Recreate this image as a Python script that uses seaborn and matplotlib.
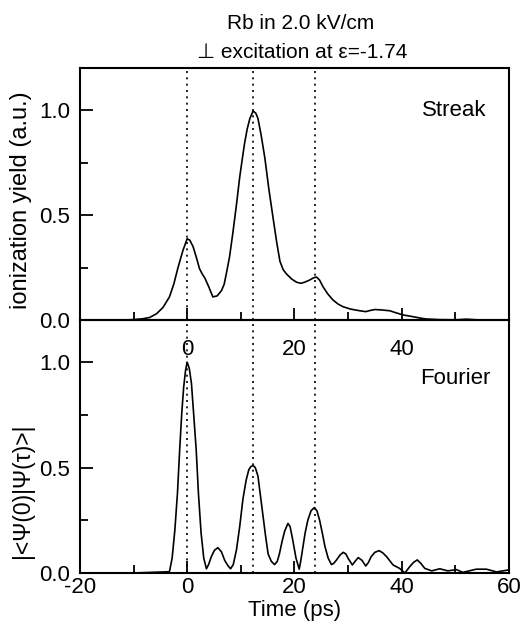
import numpy as np
import pandas as pd
import matplotlib
matplotlib.use("Agg")
import matplotlib.pyplot as plt
import seaborn as sns
from matplotlib.ticker import MultipleLocator, FormatStrFormatter

# Streak camera ionization yield
streak_t = [-18, -12, -10, -8.3, -7, -5.7, -4.5, -3.3, -2.5, -1.7, -0.8, 0.0, 0.5, 1.1, 1.7,
            2.3, 2.8, 3.3, 4.0, 4.8, 5.6, 6.4, 6.9, 7.3, 7.9, 8.5, 9.2, 9.8, 10.3, 10.7,
            11.2, 11.7, 12.3, 12.8, 13.2, 13.8, 14.5, 15.2, 16.0, 16.7, 17.3, 17.9, 18.5,
            19.5, 20.4, 21.2, 21.9, 22.8, 23.5, 24.1, 24.7, 25.3, 26.2, 27.2, 28.2, 29.1,
            30.5, 32.2, 33.3, 34.2, 35.0, 36.3, 37.8, 39.0, 40.3, 42.1, 43.5, 44.6, 47,
            50, 52.1, 54, 57]
streak_y = [0.0, 0.0, 0.002, 0.006, 0.012, 0.03, 0.06, 0.11, 0.17, 0.25, 0.33, 0.387, 0.38,
            0.35, 0.30, 0.245, 0.22, 0.20, 0.16, 0.11, 0.115, 0.14, 0.17, 0.22, 0.30, 0.41,
            0.55, 0.68, 0.77, 0.84, 0.91, 0.96, 0.995, 0.985, 0.96, 0.88, 0.77, 0.63, 0.49,
            0.37, 0.28, 0.24, 0.22, 0.195, 0.18, 0.175, 0.18, 0.19, 0.20, 0.205, 0.19,
            0.16, 0.125, 0.095, 0.075, 0.063, 0.052, 0.044, 0.04, 0.046, 0.05, 0.048,
            0.044, 0.034, 0.024, 0.016, 0.009, 0.005, 0.002, 0.001, 0.004, 0.001, 0.0]

# Fourier transform overlap |<psi(0)|psi(tau)>|
fourier_t = [-18, -10, -3.3, -2.8, -2.3, -1.8, -1.4, -1.0, -0.65, -0.3, 0.0, 0.4, 0.8, 1.2,
             1.7, 2.1, 2.6, 3.1, 3.6, 4.0, 4.5, 5.1, 5.75, 6.4, 7.0, 7.6, 8.1, 8.6, 9.2,
             9.8, 10.4, 11.0, 11.5, 11.9, 12.3, 12.7, 13.2, 13.6, 14.1, 14.6, 15.1, 15.7,
             16.3, 16.8, 17.2, 17.7, 18.2, 18.8, 19.2, 19.7, 20.3, 20.9, 21.2, 21.6, 22.0,
             22.5, 23.1, 23.7, 24.2, 24.7, 25.2, 25.7, 26.3, 26.9, 27.3, 27.8, 28.5, 29.1,
             29.6, 30.0, 30.8, 31.3, 31.9, 32.6, 33.3, 33.8, 34.3, 35.0, 35.8, 36.5, 37.2,
             38.4, 39.6, 40.6, 41.5, 42.2, 42.9, 43.6, 44.3, 45.6, 47.1, 48.6, 50.2, 51.4,
             52.6, 53.9, 55.8, 57.7, 59.8]
fourier_y = [0.0, 0.0, 0.006, 0.07, 0.2, 0.38, 0.58, 0.76, 0.88, 0.96, 1.0, 0.97, 0.9, 0.76,
             0.58, 0.38, 0.19, 0.07, 0.02, 0.04, 0.077, 0.108, 0.12, 0.1, 0.06, 0.035, 0.02,
             0.04, 0.11, 0.22, 0.35, 0.44, 0.49, 0.505, 0.51, 0.5, 0.46, 0.38, 0.28, 0.18,
             0.09, 0.055, 0.04, 0.055, 0.09, 0.15, 0.2, 0.235, 0.22, 0.155, 0.07, 0.018, 0.06,
             0.125, 0.19, 0.25, 0.295, 0.31, 0.295, 0.25, 0.19, 0.125, 0.07, 0.04, 0.045,
             0.06, 0.085, 0.098, 0.09, 0.07, 0.038, 0.055, 0.073, 0.06, 0.033, 0.05, 0.077,
             0.098, 0.106, 0.095, 0.077, 0.038, 0.022, 0.0, 0.03, 0.05, 0.062, 0.045, 0.022,
             0.01, 0.02, 0.01, 0.016, 0.003, 0.01, 0.018, 0.018, 0.005, 0.014]

# positions of the classical return times (dotted guides)
guide_t = [0.0, 12.3, 23.8]

sns.set_style("ticks")
plt.rcParams['font.family'] = ['Liberation Sans', 'DejaVu Sans']
plt.rcParams['axes.unicode_minus'] = False
for k in ('text.color', 'axes.labelcolor', 'xtick.color', 'ytick.color', 'axes.edgecolor'):
    plt.rcParams[k] = 'black'

fig = plt.figure(figsize=(5.22, 6.28), dpi=100)
ax2 = fig.add_axes([0.153, 0.0876, 0.822, 0.4029])
ax1 = fig.add_axes([0.153, 0.4904, 0.822, 0.4013])
ax1.patch.set_visible(False)

df_s = pd.DataFrame({"t": streak_t, "y": streak_y})
df_f = pd.DataFrame({"t": fourier_t, "y": fourier_y})
sns.lineplot(data=df_s, x="t", y="y", ax=ax1, color="black", lw=1.2)
sns.lineplot(data=df_f, x="t", y="y", ax=ax2, color="black", lw=1.2)

for ax in (ax1, ax2):
    ax.set_xlim(-20, 60)
    ax.set_ylim(0, 1.2)
    for g in guide_t:
        ax.axvline(g, color="black", ls=(0, (1.2, 2.6)), lw=1.2)
    ax.xaxis.set_major_locator(MultipleLocator(20))
    ax.xaxis.set_minor_locator(MultipleLocator(10))
    ax.yaxis.set_major_locator(MultipleLocator(0.5))
    ax.yaxis.set_minor_locator(MultipleLocator(0.25))
    ax.tick_params(which="both", direction="in", labelsize=16, width=1.3,
                   right=False, top=False)
    ax.tick_params(which="major", length=9)
    ax.tick_params(which="minor", length=6)
    ax.tick_params(axis="y", pad=7)
    for s in ax.spines.values():
        s.set_linewidth(1.5)
    ax.yaxis.set_major_formatter(FormatStrFormatter("%.1f"))
    ax.set_xlabel("")

ax1.set_xticks([0, 20, 40])
ax1.set_xticklabels(["0", "20", "40"])
ax1.tick_params(axis="x", which="major", pad=14)
ax2.tick_params(axis="x", pad=3)

ax1.set_ylabel("ionization yield (a.u.)", fontsize=17)
ax1.yaxis.set_label_coords(-0.112, 0.476)
ax2.set_ylabel("|<Ψ(0)|Ψ(τ)>|", fontsize=16.5)
ax2.yaxis.set_label_coords(-0.107, 0.324)
ax2.set_xlabel("Time (ps)", fontsize=16, labelpad=1)

ax1.text(0.872, 0.833, "Streak", transform=ax1.transAxes, ha="center", va="center", fontsize=16)
ax2.text(0.876, 0.767, "Fourier", transform=ax2.transAxes, ha="center", va="center", fontsize=16)

fig.text(0.575, 0.962, "Rb in 2.0 kV/cm", ha="center", va="center", fontsize=15)
fig.text(0.578, 0.917, "⊥ excitation at ε=-1.74", ha="center", va="center", fontsize=15)

fig.savefig("out.png", dpi=100)
